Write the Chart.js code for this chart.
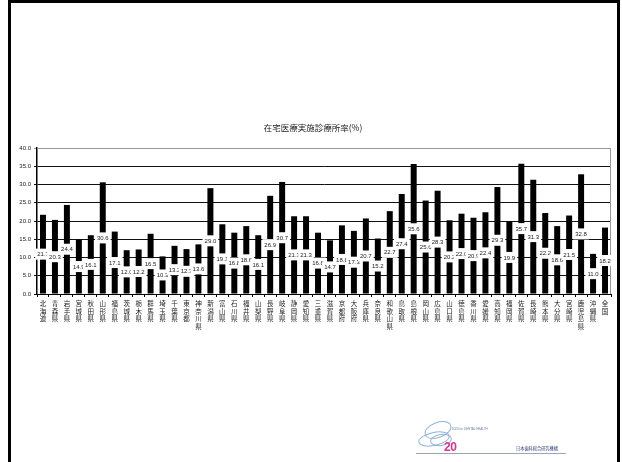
<!DOCTYPE html>
<html>
<head>
<meta charset="utf-8">
<script src="https://cdn.jsdelivr.net/npm/chart.js@4/dist/chart.umd.min.js"></script>
<style>
  html, body { margin: 0; padding: 0; background: #fff; }
  #page { position: relative; width: 622px; height: 462px; overflow: hidden; background: #fff; }
  #frame { position: absolute; left: 8px; top: 0; width: 606px; height: 470px;
           border-left: 3px solid #000; border-right: 3px solid #000; border-top: 3px solid #000; }
  #chart { position: absolute; left: 0; top: 0; }
  #title { position: absolute; top: 121px; left: 213px; width: 200px; text-align: center;
           font: 8.5px "Noto Sans CJK JP", sans-serif; color: #222; }
  #logo { position: absolute; left: 410px; top: 420px; width: 160px; height: 40px; }
  .ring { position: absolute; border: 1.3px solid #8fb3dc; border-radius: 50%; }
  #num { position: absolute; left: 34px; top: 20px; font: bold 12px "Liberation Sans", Arial, sans-serif;
         color: #e2338b; letter-spacing: -0.5px; }
  #tag { position: absolute; left: 42px; top: 7px; font: 3px "Liberation Sans", sans-serif; color: #6b7fa8; white-space: nowrap; }
  #org { position: absolute; left: 106px; top: 25px; font: 4.2px "Noto Sans CJK JP", sans-serif; color: #2c3f73; white-space: nowrap; }
  #rule { position: absolute; left: 6px; top: 33px; width: 150px; height: 1px; background: #9aa6b8; }
</style>
</head>
<body>
<div id="page">
  <div id="frame"></div>
  <canvas id="chart" width="622" height="462"></canvas>
  <div id="title">在宅医療実施診療所率(%)</div>
  <div id="logo">
    <div class="ring" style="left:8px;top:12px;width:30px;height:12px;transform:rotate(-12deg);"></div>
    <div class="ring" style="left:14px;top:2px;width:26px;height:14px;transform:rotate(-20deg);"></div>
    <div class="ring" style="left:20px;top:14px;width:20px;height:10px;transform:rotate(-8deg);"></div>
    <div id="tag">8020 for DENTAL HEALTH</div>
    <div id="num">20</div>
    <div id="org">日本歯科総合研究機構</div>
    <div id="rule"></div>
  </div>
</div>
<script>
// Prefectures (plus the national figure) and the share of clinics providing home care, in percent
const prefectures = [
  '北海道','青森県','岩手県','宮城県','秋田県','山形県','福島県','茨城県','栃木県','群馬県',
  '埼玉県','千葉県','東京都','神奈川県','新潟県','富山県','石川県','福井県','山梨県','長野県',
  '岐阜県','静岡県','愛知県','三重県','滋賀県','京都府','大阪府','兵庫県','奈良県','和歌山県',
  '鳥取県','島根県','岡山県','広島県','山口県','徳島県','香川県','愛媛県','高知県','福岡県',
  '佐賀県','長崎県','熊本県','大分県','宮崎県','鹿児島県','沖縄県','全国'
];
const rates = [
  21.7, 20.3, 24.4, 14.9, 16.1, 30.6, 17.1, 12.0, 12.2, 16.5,
  10.3, 13.2, 12.3, 13.6, 29.0, 19.1, 16.8, 18.6, 16.1, 26.9,
  30.7, 21.3, 21.3, 16.8, 14.7, 18.8, 17.3, 20.7, 15.2, 22.7,
  27.4, 35.6, 25.6, 28.3, 20.2, 22.0, 20.9, 22.4, 29.3, 19.9,
  35.7, 31.3, 22.2, 18.6, 21.5, 32.8, 11.0, 18.2
];
const yMin = 0, yMax = 40, yStep = 5;

// Each name is stacked vertically, one character per line
const verticalLabels = prefectures.map(p => p.split(''));

// Value labels in white boxes, centred on each bar
const valueBoxes = {
  id: 'valueBoxes',
  afterDatasetsDraw(chart) {
    const ctx = chart.ctx;
    const meta = chart.getDatasetMeta(0);
    const data = chart.data.datasets[0].data;
    ctx.save();
    ctx.font = '6px "Liberation Sans", Arial, sans-serif';
    ctx.textAlign = 'center';
    ctx.textBaseline = 'middle';
    meta.data.forEach((bar, i) => {
      const txt = data[i].toFixed(1);
      const cy = (bar.y + bar.base) / 2;
      const w = ctx.measureText(txt).width + 4;
      const h = 11;
      ctx.fillStyle = '#fff';
      ctx.fillRect(bar.x - w / 2, cy - h / 2, w, h);
      ctx.fillStyle = '#222';
      ctx.fillText(txt, bar.x, cy + 0.5);
    });
    ctx.restore();
  }
};

// Grey frame around the plot area (top and right sides)
const plotFrame = {
  id: 'plotFrame',
  beforeDatasetsDraw(chart) {
    const { ctx, chartArea: a } = chart;
    ctx.save();
    ctx.strokeStyle = '#999';
    ctx.lineWidth = 1;
    ctx.beginPath();
    ctx.moveTo(a.left, a.top + 0.5);
    ctx.lineTo(a.right - 0.5, a.top + 0.5);
    ctx.lineTo(a.right - 0.5, a.bottom);
    ctx.stroke();
    ctx.restore();
  }
};

new Chart(document.getElementById('chart'), {
  type: 'bar',
  data: {
    labels: verticalLabels,
    datasets: [{
      data: rates,
      backgroundColor: '#000',
      borderWidth: 0,
      barPercentage: 0.5,
      categoryPercentage: 1.0
    }]
  },
  options: {
    responsive: false,
    animation: false,
    devicePixelRatio: 1,
    layout: { padding: { left: 0, top: 148, right: 11, bottom: 118 } },
    plugins: { legend: { display: false }, tooltip: { enabled: false }, title: { display: false } },
    scales: {
      x: {
        grid: { offset: true, drawOnChartArea: false, tickLength: 3, color: '#000' },
        border: { color: '#000', width: 1 },
        ticks: {
          maxRotation: 0, minRotation: 0, autoSkip: false, padding: 3, color: '#222',
          font: { family: '"Noto Sans CJK JP", sans-serif', size: 6.5, lineHeight: 1.15 }
        },
        afterFit(scale) { scale.height = 50; }
      },
      y: {
        min: yMin, max: yMax,
        ticks: {
          stepSize: yStep, padding: 3, color: '#222',
          font: { family: '"Liberation Sans", Arial, sans-serif', size: 6 },
          callback: v => Number(v).toFixed(1)
        },
        grid: {
          color: c => (c.tick && c.tick.value === yMax ? '#999' : '#111'),
          lineWidth: 1, tickLength: 3
        },
        border: { color: '#000', width: 1.5 },
        afterFit(scale) { scale.width = 37; }
      }
    }
  },
  plugins: [plotFrame, valueBoxes]
});
</script>
</body>
</html>
